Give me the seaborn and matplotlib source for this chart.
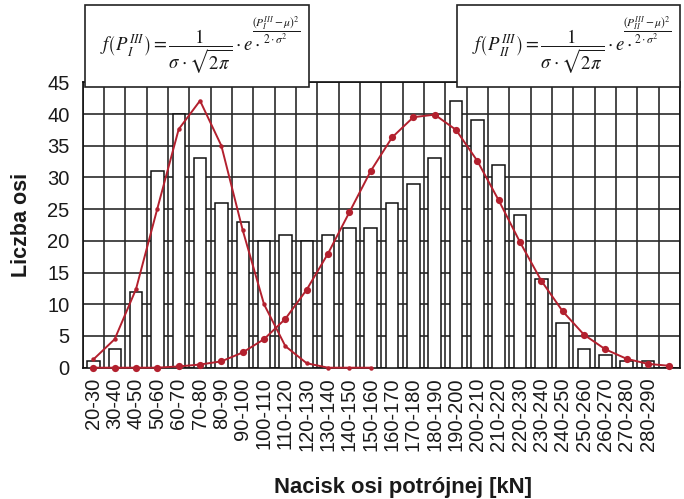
import numpy as np
import pandas as pd
import matplotlib
matplotlib.use("Agg")
import matplotlib.pyplot as plt
from matplotlib.patches import Rectangle
import seaborn as sns

# ---- data ----
categories = ["20-30", "30-40", "40-50", "50-60", "60-70", "70-80", "80-90",
              "90-100", "100-110", "110-120", "120-130", "130-140", "140-150",
              "150-160", "160-170", "170-180", "180-190", "190-200", "200-210",
              "210-220", "220-230", "230-240", "240-250", "250-260", "260-270",
              "270-280", "280-290", "290-300"]
tick_labels = categories[:-1] + [""]
counts = [1, 3, 12, 31, 40, 33, 26, 23, 20, 21, 20, 21, 22, 22, 26, 29, 33,
          42, 39, 32, 24, 14, 7, 3, 2, 1, 1, 0]
curve_I = [1.3, 4.5, 12.4, 25.1, 37.6, 42.1, 35.0, 21.7, 10.0, 3.4, 0.7,
           0.0, 0.0, 0.0]
curve_II = [0.0, 0.0, 0.0, 0.0, 0.2, 0.5, 1.0, 2.4, 4.5, 7.7, 12.3, 18.0,
            24.5, 31.0, 36.3, 39.5, 39.9, 37.5, 32.6, 26.4, 19.8, 13.7, 8.9,
            5.2, 2.9, 1.4, 0.6, 0.3]
y_ticks = [0, 5, 10, 15, 20, 25, 30, 35, 40, 45]

x_label = "Nacisk osi potrójnej [kN]"
y_label = "Liczba osi"
formula_I_main = r"$f\left(P_{I}^{III}\right)=\dfrac{1}{\sigma\cdot\sqrt{2\pi}}\cdot e\cdot$"
formula_I_exp = r"$\dfrac{\left(P_{I}^{III}-\mu\right)^{2}}{2\cdot\sigma^{2}}$"
formula_II_main = r"$f\left(P_{II}^{III}\right)=\dfrac{1}{\sigma\cdot\sqrt{2\pi}}\cdot e\cdot$"
formula_II_exp = r"$\dfrac{\left(P_{II}^{III}-\mu\right)^{2}}{2\cdot\sigma^{2}}$"

# ---- style ----
sns.set_style("white")
plt.rcParams["font.family"] = ["Liberation Sans", "DejaVu Sans"]
plt.rcParams["mathtext.fontset"] = "stix"

W, H = 684, 499
fig = plt.figure(figsize=(W / 100, H / 100), dpi=100)
ax = fig.add_axes([82.7 / W, 1 - 367.7 / H, (680 - 82.7) / W, (367.7 - 82.3) / H])

red = "#b3202e"
grid_c = "#2a2a2a"

df_bars = pd.DataFrame({"cat": categories, "count": counts})
sns.barplot(data=df_bars, x="cat", y="count", order=categories, ax=ax,
            color="white", edgecolor="#111111", linewidth=1.1, width=0.58,
            saturation=1, zorder=3)

df1 = pd.DataFrame({"x": np.arange(len(curve_I)), "y": curve_I})
df2 = pd.DataFrame({"x": np.arange(len(curve_II)), "y": curve_II})
sns.lineplot(data=df1, x="x", y="y", ax=ax, color=red, lw=1.4, marker="o",
             markersize=3.2, markeredgewidth=0, zorder=5, clip_on=False)
sns.lineplot(data=df2, x="x", y="y", ax=ax, color=red, lw=1.4, marker="o",
             markersize=5.2, markeredgewidth=0, zorder=5, clip_on=False)

ax.set_xlim(-0.5, len(categories) - 0.5)
ax.set_ylim(0, 45)
ax.set_yticks(y_ticks)
ax.set_xticks(np.arange(len(categories)))
ax.set_xticklabels(tick_labels, rotation=90)
ax.set_xticks(np.arange(len(categories) + 1) - 0.5, minor=True)

ax.tick_params(axis="y", which="major", direction="inout", length=6,
               width=1.1, color="#111111", labelsize=14.5, pad=6.5,
               labelcolor="#1a1a1a")
ax.tick_params(axis="x", which="major", length=0, labelsize=14.5, pad=7,
               labelcolor="#1a1a1a")
ax.tick_params(axis="x", which="minor", direction="out", length=4,
               width=1.1, color="#111111")

ax.grid(axis="y", which="major", color=grid_c, lw=1.2, zorder=0)
ax.grid(axis="x", which="minor", color=grid_c, lw=1.2, zorder=0)
ax.grid(axis="x", which="major", visible=False)
ax.set_axisbelow(True)
for s in ax.spines.values():
    s.set_color("#111111")
    s.set_linewidth(1.2)

ax.set_xlabel("")
ax.set_ylabel("")
fig.text(402.5 / W, 1 - 487 / H, x_label, ha="center", va="center",
         fontsize=15.8, fontweight="bold", color="#1a1a1a")
fig.text(21.5 / W, 1 - 225 / H, y_label, ha="center", va="center",
         rotation=90, fontsize=15.5, fontweight="bold", color="#1a1a1a")

# formula boxes
for (x0, x1, main, expo) in [(85, 309, formula_I_main, formula_I_exp),
                             (456.5, 680, formula_II_main, formula_II_exp)]:
    y0, y1 = 5, 86.7
    rect = Rectangle((x0 / W, 1 - y1 / H), (x1 - x0) / W, (y1 - y0) / H,
                     transform=fig.transFigure, facecolor="white",
                     edgecolor="#222222", lw=1.2, zorder=10)
    fig.add_artist(rect)
    fig.text((x0 + 15) / W, 1 - 52 / H, main, ha="left", va="center",
             fontsize=13.5, color="#1a1a1a", zorder=11)
    fig.text((x0 + 191) / W, 1 - 30 / H, expo, ha="center", va="center",
             fontsize=8.3, color="#1a1a1a", zorder=11)

fig.savefig("out.png", dpi=100)
